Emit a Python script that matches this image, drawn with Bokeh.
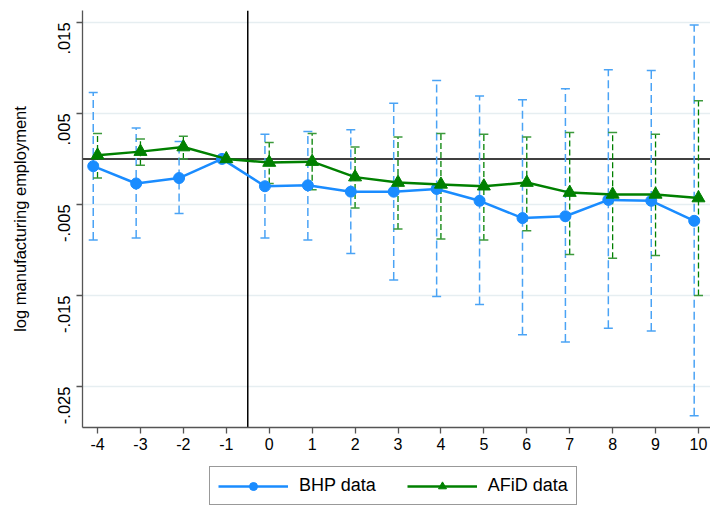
import math
from bokeh.plotting import figure
from bokeh.layouts import column
from bokeh.models import Span, Legend, LegendItem, FixedTicker, Range1d
from bokeh.embed import file_html
from bokeh.resources import INLINE

periods = [-4, -3, -2, -1, 0, 1, 2, 3, 4, 5, 6, 7, 8, 9, 10]
x_tick_labels = ["-4", "-3", "-2", "-1", "0", "1", "2", "3", "4", "5", "6", "7", "8", "9", "10"]

bhp_est = [-0.0008, -0.0027, -0.0021, 0.0, -0.0030, -0.0029, -0.0036, -0.0036,
           -0.0033, -0.0046, -0.0065, -0.0063, -0.0045, -0.0046, -0.0068]
bhp_hi = [0.0073, 0.0034, 0.0019, None, 0.0027, 0.0030, 0.0032, 0.0061,
          0.0086, 0.0069, 0.0065, 0.0077, 0.0098, 0.0097, 0.0147]
bhp_lo = [-0.0089, -0.0087, -0.0060, None, -0.0087, -0.0089, -0.0104, -0.0133,
          -0.0151, -0.0160, -0.0193, -0.0201, -0.0186, -0.0189, -0.0282]

afid_est = [0.0004, 0.0008, 0.0013, 0.0, -0.0004, -0.0003, -0.0020, -0.0026,
            -0.0028, -0.0030, -0.0026, -0.0037, -0.0039, -0.0039, -0.0043]
afid_hi = [0.0028, 0.0022, 0.0025, None, 0.0018, 0.0028, 0.0013, 0.0024,
           0.0028, 0.0027, 0.0024, 0.0029, 0.0029, 0.0027, 0.0064]
afid_lo = [-0.0021, -0.0007, 0.0000, None, -0.0027, -0.0034, -0.0054, -0.0077,
           -0.0088, -0.0089, -0.0079, -0.0105, -0.0109, -0.0106, -0.0150]

y_ticks = [0.015, 0.005, -0.005, -0.015, -0.025]
y_tick_labels = [".015", ".005", "-.005", "-.015", "-.025"]

BLUE = "#1a8cff"
BLUE_CI = "#4aa3f5"
GREEN = "#008000"
FONT = "Liberation Sans"

p = figure(width=710, height=460, output_backend="svg", toolbar_location=None,
           x_range=Range1d(-4.35, 10.28), y_range=Range1d(-0.0295, 0.0163),
           min_border_left=82, min_border_right=0, min_border_top=10,
           min_border_bottom=33, outline_line_color=None,
           background_fill_color="white", border_fill_color="white")

# reference lines
p.add_layout(Span(location=0, dimension="width", line_color="black",
                  line_width=1.5, level="underlay"))
p.add_layout(Span(location=-0.5, dimension="height", line_color="black",
                  line_width=1.5, level="underlay"))

off = -0.1
def ci(xs, lo, hi, dx):
    x0, l0, h0 = [], [], []
    for x, l, h in zip(xs, lo, hi):
        if l is None:
            continue
        x0.append(x + dx); l0.append(l); h0.append(h)
    return x0, l0, h0

bx, bl, bh = ci(periods, bhp_lo, bhp_hi, off)
gx, gl, gh = ci(periods, afid_lo, afid_hi, 0.0)

p.segment(bx, bl, bx, bh, line_color=BLUE_CI, line_width=1.5, line_dash="8 4")
p.scatter(bx + bx, bl + bh, marker="dash", size=9, line_color=BLUE_CI, line_width=1.5)
p.segment(gx, gl, gx, gh, line_color=GREEN, line_width=1.3, line_dash="6 3")
p.scatter(gx + gx, gl + gh, marker="dash", size=9, line_color="#3c9a3c", line_width=1.5)

bxs = [x + off for x in periods]
p.line(bxs, bhp_est, line_color=BLUE, line_width=2.5)
p.scatter(bxs, bhp_est, marker="circle", size=11, fill_color=BLUE, line_color=BLUE)
p.line(periods, afid_est, line_color=GREEN, line_width=2.5)
p.scatter(periods, afid_est, marker="triangle", size=13, fill_color=GREEN, line_color=GREEN)

# axes
p.xaxis.ticker = FixedTicker(ticks=periods)
p.xaxis.major_label_overrides = {t: l for t, l in zip(periods, x_tick_labels)}
p.yaxis.ticker = FixedTicker(ticks=y_ticks)
p.yaxis.major_label_overrides = {t: l for t, l in zip(y_ticks, y_tick_labels)}
p.yaxis.major_label_orientation = math.pi / 2
p.yaxis.axis_label = "log manufacturing employment"
for ax in (p.xaxis[0], p.yaxis[0]):
    ax.axis_line_color = "#555555"
    ax.axis_line_width = 1.3
    ax.major_tick_line_color = "#555555"
    ax.major_tick_line_width = 1.3
    ax.major_tick_out = 6
    ax.major_tick_in = 0
    ax.minor_tick_line_color = None
    ax.major_label_text_font = FONT
    ax.major_label_text_font_size = "16px"
    ax.major_label_text_color = "black"
p.yaxis.major_label_text_font_size = "16.5px"
p.xaxis.major_label_standoff = 4
p.yaxis.major_label_standoff = 12
p.yaxis.axis_label_text_font = FONT
p.yaxis.axis_label_text_font_size = "16.5px"
p.yaxis.axis_label_text_font_style = "normal"
p.yaxis.axis_label_text_color = "black"
p.yaxis.axis_label_standoff = 21

p.xgrid.grid_line_color = None
p.ygrid.grid_line_color = "#e6eef1"
p.ygrid.grid_line_width = 1.5

# legend in its own strip below (frame is aligned with the main plot's frame)
lg = figure(width=710, height=46, output_backend="svg", toolbar_location=None,
            x_range=Range1d(0, 1), y_range=Range1d(0, 1),
            x_axis_location=None, y_axis_location=None,
            min_border_left=0, min_border_right=0, min_border_top=0,
            min_border_bottom=0, outline_line_color=None)
lg.grid.visible = False
nan = float("nan")
r1 = lg.line([nan], [nan], line_color=BLUE, line_width=2.5)
r2 = lg.scatter([nan], [nan], marker="circle", size=11, fill_color=BLUE, line_color=BLUE)
r3 = lg.line([nan], [nan], line_color=GREEN, line_width=2.5)
r4 = lg.scatter([nan], [nan], marker="triangle", size=13, fill_color=GREEN, line_color=GREEN)

legend = Legend(items=[LegendItem(label="BHP data", renderers=[r1, r2]),
                       LegendItem(label="AFiD data", renderers=[r3, r4])],
                orientation="horizontal", location=(127, 1),
                glyph_width=70, glyph_height=20, label_standoff=11, spacing=31,
                padding=8, margin=0,
                label_text_font=FONT, label_text_font_size="18px",
                label_text_color="black",
                border_line_color="#333333", border_line_width=1.3,
                background_fill_alpha=1.0)
lg.add_layout(legend)

open("out.html", "w").write(file_html(column(p, lg, spacing=0), INLINE))
